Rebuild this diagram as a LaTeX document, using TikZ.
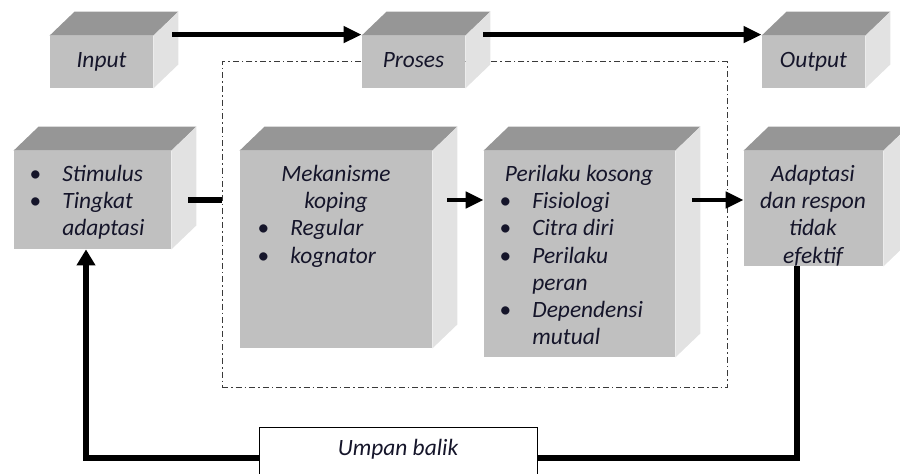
\documentclass[tikz,border=0pt]{standalone}
\usepackage{fontspec}
\setmainfont{Carlito}
\usepackage{tikz}
\usepackage{xcolor}
\usetikzlibrary{arrows.meta}
\definecolor{faceGray}{HTML}{C0C0C0}
\definecolor{topGray}{HTML}{969696}
\definecolor{sideGray}{HTML}{E2E2E2}
\definecolor{frameGray}{HTML}{3A3A3A}
\definecolor{inkBlack}{HTML}{15152A}

\newcommand{\itm}[1]{\makebox[16.5pt][l]{\textbullet}#1}
\newcommand{\cnt}[1]{\hspace*{16.5pt}#1}
% name, left, top, width, height, text
\newcommand{\cube}[6]{%
  \node[front, minimum width=#4*0.5pt, minimum height=#5*0.5pt] (#1) at (#2+#4/2,#3+#5/2) {\raisebox{1.5pt}{#6}};
  \fill[topface] (#1.north west) -- ++(25,-24) -- ([shift={(25,-24)}]#1.north east) -- (#1.north east) -- cycle;
  \fill[sideface] (#1.north east) -- ++(25,-24) -- ([shift={(25,-24)}]#1.south east) -- (#1.south east) -- cycle;
}

\tikzset{
  boxfont/.style={font=\fontsize{11.7}{13.6}\selectfont\itshape, text=inkBlack},
  front/.style={fill=faceGray, inner sep=0pt, boxfont},
  topface/.style={fill=topGray},
  sideface/.style={fill=sideGray},
  txt/.style={inner sep=0pt, boxfont},
  arr/.style={line width=2.2pt, -{Triangle[length=9pt,width=8pt]}},
  bar/.style={line width=2.6pt},
  feedback/.style={line width=3pt, -{Triangle[length=8pt,width=9pt]}},
  frame/.style={draw=frameGray, line width=0.5pt, dash pattern=on 3pt off 1.5pt on 0.8pt off 1.5pt, inner sep=0pt},
}

\begin{document}
\begin{tikzpicture}[x=0.5pt, y=-0.5pt]
  \useasboundingbox (0,0) rectangle (900,474);
  \clip (0,0) rectangle (900,474);
  % Process frame.
  \node[frame, minimum width=505*0.5pt, minimum height=326*0.5pt] (frame) at (474.5,225) {};
  % Top row.
  \cube{input}{50}{36}{103}{52}{Input}
  \cube{proses}{362}{36}{103}{52}{Proses}
  \cube{output}{762}{36}{103}{52}{Output}
  % Second row.
  \cube{stim}{14}{151}{157}{98}{}
  \cube{mek}{240}{151}{192}{197}{}
  \cube{per}{484}{151}{191}{206}{}
  \cube{ada}{744}{151}{139}{115}{}
  % Texts.
  \node[txt, anchor=north west] (stimTxt) at (29,162)
    {\begin{tabular}{@{}l@{}}\itm{Stimulus}\\ \itm{Tingkat}\\ \cnt{adaptasi}\end{tabular}};
  \node[txt, anchor=north] (mekTitle) at (336,162)
    {\begin{tabular}{@{}c@{}}Mekanisme\\ koping\end{tabular}};
  \node[txt, anchor=north west] (mekList) at (257,216.4)
    {\begin{tabular}{@{}l@{}}\itm{Regular}\\ \itm{kognator}\end{tabular}};
  \node[txt, anchor=north] (perTitle) at (579,162)
    {\begin{tabular}{@{}c@{}}Perilaku kosong\end{tabular}};
  \node[txt, anchor=north west] (perList) at (499,189.2)
    {\begin{tabular}{@{}l@{}}\itm{Fisiologi}\\ \itm{Citra diri}\\ \itm{Perilaku}\\ \cnt{peran}\\ \itm{Dependensi}\\ \cnt{mutual}\end{tabular}};
  \node[txt, anchor=north] (adaTxt) at (813,162)
    {\begin{tabular}{@{}c@{}}Adaptasi\\ dan respon\\ tidak\\ efektif\end{tabular}};
  % Connectors.
  \draw[arr] ([shift={(19,-1)}]input.north east) -- ([yshift=0.5pt]proses.north west);
  \draw[arr] ([shift={(18,-1)}]proses.north east) -- ([yshift=0.5pt]output.north west);
  \draw[bar] ([xshift=8.5pt]stim.east) -- (stim.east -| frame.west);
  \draw[arr] ([xshift=7.5pt]mek.east |- stim.east) -- (stim.east -| per.west);
  \draw[arr] ([xshift=8.5pt]per.east |- stim.east) -- (stim.east -| ada.west);
  % Feedback loop.
  \coordinate (fbRight) at (797,458);
  \coordinate (fbLeft) at (86,458);
  \draw[feedback] (ada.south -| fbRight) -- (fbRight) -- (fbLeft) -- (fbLeft |- stim.south);
  \node[draw=black, fill=white, line width=0.6pt, minimum width=278*0.5pt, minimum height=80*0.5pt, anchor=north west] (umpan) at (259,427) {};
  \node[txt] (umpanTxt) at (398,449) {Umpan balik};
\end{tikzpicture}
\end{document}
